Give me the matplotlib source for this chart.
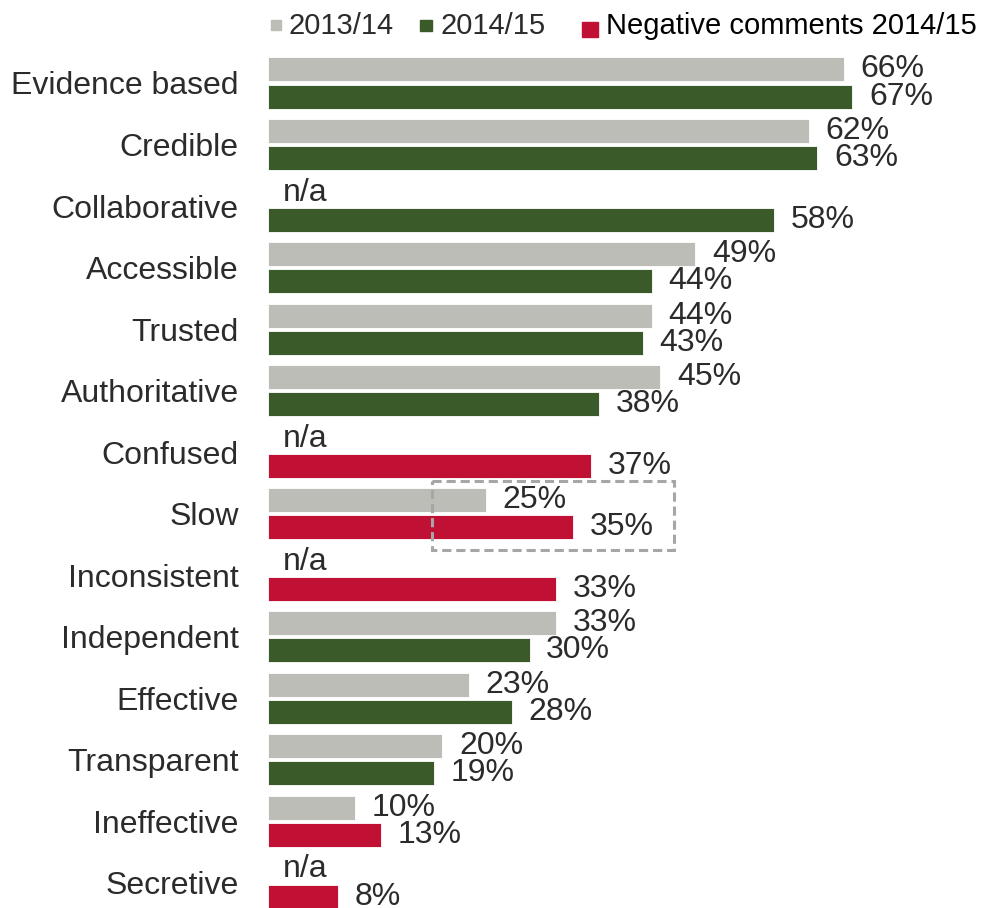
import numpy as np
import matplotlib
matplotlib.use("Agg")
import matplotlib.pyplot as plt
from matplotlib.patches import Rectangle

plt.rcParams['font.family'] = ['Liberation Sans', 'DejaVu Sans']

categories = ["Evidence based", "Credible", "Collaborative", "Accessible", "Trusted",
              "Authoritative", "Confused", "Slow", "Inconsistent", "Independent",
              "Effective", "Transparent", "Ineffective", "Secretive"]
prev_year = [66, 62, np.nan, 49, 44, 45, np.nan, 25, np.nan, 33, 23, 20, 10, np.nan]
this_year = [67, 63, 58, 44, 43, 38, 37, 35, 33, 30, 28, 19, 13, 8]
negative = ["Confused", "Slow", "Inconsistent", "Ineffective", "Secretive"]

grey = "#BCBDB6"
green = "#3A5A2A"
red = "#C01033"
txt = "#2B2B2B"

fig = plt.figure(figsize=(9.83, 9.08), dpi=100)
ax = fig.add_axes([268 / 983, 1 - 907.6 / 908, 697.6 / 983, 855.4 / 908])

rows = np.arange(len(categories))
off = 0.22
h = 0.39

for i, cat in enumerate(categories):
    p = prev_year[i]
    c = this_year[i]
    if np.isnan(p):
        ax.annotate("n/a", xy=(0, i - off), xytext=(11, 0), textcoords="offset points",
                    va="center", ha="left", fontsize=23, color=txt)
    else:
        ax.barh(i - off, p, height=h, color=grey, edgecolor="white", linewidth=0.6)
        ax.annotate(f"{int(p)}%", xy=(p, i - off), xytext=(12, 0), textcoords="offset points",
                    va="center", ha="left", fontsize=23, color=txt)
    col = red if cat in negative else green
    ax.barh(i + off, c, height=h, color=col, edgecolor="white", linewidth=0.6)
    ax.annotate(f"{c}%", xy=(c, i + off), xytext=(12, 0), textcoords="offset points",
                va="center", ha="left", fontsize=23, color=txt, annotation_clip=False)

# highlight box around "Slow"
slow = categories.index("Slow")
box = Rectangle((18.8, slow - 0.53), 27.8, 1.12, fill=False, edgecolor="#A6A6A6",
                linewidth=2.2, linestyle=(0, (3, 1.6)), zorder=5, clip_on=False)
ax.add_patch(box)

ax.set_xlim(0, 80)
ax.set_ylim(13.4, -0.5)
ax.set_yticks(rows)
ax.set_yticklabels(categories, fontsize=23, color=txt)
ax.tick_params(axis="y", length=0, pad=21)
ax.set_xticks([])
for s in ax.spines.values():
    s.set_visible(False)

# legend
fig.add_artist(Rectangle((271 / 983, 1 - 30 / 908), 10 / 983, 10 / 908,
                         transform=fig.transFigure, color=grey))
fig.text(289 / 983, 1 - 26 / 908, "2013/14", va="center", ha="left", fontsize=21, color=txt)
fig.add_artist(Rectangle((420 / 983, 1 - 31 / 908), 12 / 983, 11 / 908,
                         transform=fig.transFigure, color=green))
fig.text(441 / 983, 1 - 26 / 908, "2014/15", va="center", ha="left", fontsize=21, color=txt)
fig.add_artist(Rectangle((582 / 983, 1 - 37 / 908), 16 / 983, 15 / 908,
                         transform=fig.transFigure, color=red))
fig.text(606 / 983, 1 - 26 / 908, "Negative comments 2014/15", va="center", ha="left",
         fontsize=21, color="black")

fig.savefig("out.png", dpi=100)
